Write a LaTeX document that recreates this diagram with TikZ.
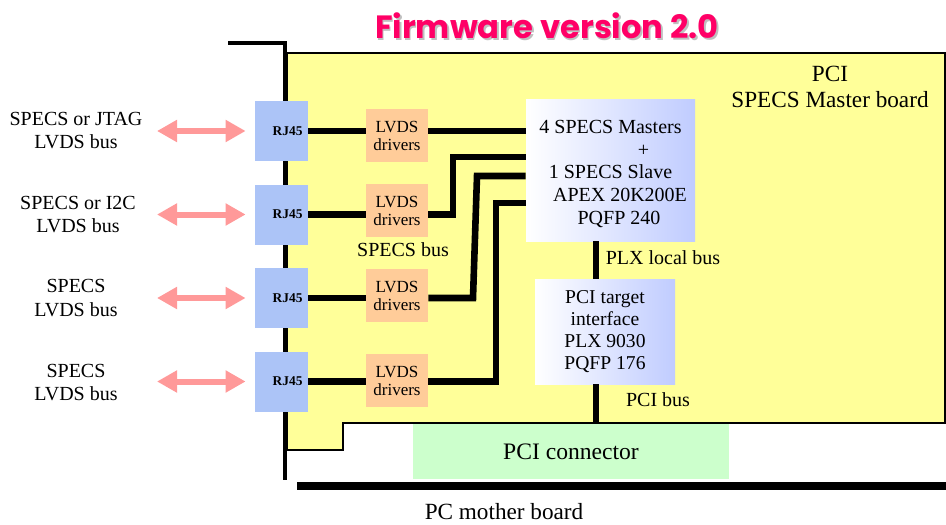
\documentclass[tikz,border=0pt]{standalone}
\usepackage{xcolor}
\usepackage{fontspec}
\setmainfont{Liberation Serif}
\newfontfamily\titlefont{Poppins}
\usetikzlibrary{arrows.meta}

\definecolor{boardyellow}{RGB}{255,255,153}
\definecolor{rjblue}{RGB}{172,196,247}
\definecolor{lvdsorange}{RGB}{255,204,153}
\definecolor{chipblue}{RGB}{192,204,255}
\definecolor{congreen}{RGB}{204,255,204}
\definecolor{arrowpink}{RGB}{255,153,153}
\definecolor{titlepink}{RGB}{255,0,102}

\tikzset{
  rjbox/.style={fill=rjblue, minimum width=26.5pt, minimum height=30pt,
    text width=21pt, inner xsep=2.75pt, align=right,
    font=\bfseries\fontsize{6.7}{8}\selectfont},
  lvdsbox/.style={fill=lvdsorange, minimum width=31pt, minimum height=26.5pt,
    inner sep=0pt, align=center, font=\fontsize{8.5}{9}\selectfont},
  chipbox/.style={left color=white, right color=chipblue, inner sep=0pt, align=center},
  bus/.style={line width=3.3pt},
  duplex/.style={line width=3pt, color=arrowpink,
    {Triangle[width=10.5pt,length=10pt]}-{Triangle[width=10.5pt,length=10pt]}},
}

\begin{document}
\begin{tikzpicture}[x=0.5pt,y=-0.5pt,font=\fontsize{10}{11.6}\selectfont]

\useasboundingbox (0,0) rectangle (946,524);

% title
\node (title) at (547,27) {\titlefont\bfseries\fontsize{16.1}{19}\selectfont
  \makebox[0pt][l]{\hspace{0.8pt}\raisebox{-0.8pt}{\textcolor{black!25}{Firmware version 2.0}}}%
  \textcolor{titlepink}{Firmware version 2.0}};

% board and bracket
\draw[fill=boardyellow, line width=0.8pt] (287,53) -- (945,53) -- (945,423) -- (343,423)
  -- (343,450) -- (287,450) -- cycle;
\draw[line width=2pt] (228,43) -- (285,43) -- (285,480);
\draw[line width=4pt] (297,486) -- (946,486);

\node[align=center, font=\fontsize{11.6}{13}\selectfont] (boardname) at (830,87) {PCI\\SPECS Master board};

% connector
\node[fill=congreen, minimum width=158pt, minimum height=27.5pt, font=\fontsize{11.8}{13}\selectfont]
  (pcicon) at (571,451.5) {PCI connector};
\node[font=\fontsize{11.6}{13}\selectfont] (mother) at (504,512) {PC mother board};

% chips
\node[chipbox, minimum width=84.5pt, minimum height=70.5pt, font=\fontsize{10}{11.3}\selectfont]
  (fpga) at (610.5,170.5) {\rule{0pt}{10pt}4 SPECS Masters\\\hspace{33pt}+\\1 SPECS Slave\\
  \hspace{9.5pt}APEX 20K200E\\\hspace{8.5pt}PQFP 240};
\node[chipbox, minimum width=70pt, minimum height=52.5pt, font=\fontsize{9.8}{10.9}\selectfont]
  (plx) at (605,331.5) {PCI target\\interface\\PLX 9030\\PQFP 176};

% RJ45 sockets
\node[rjbox] (rj1) at (281.5,131) {RJ45};
\node[rjbox] (rj2) at (281.5,214.5) {RJ45};
\node[rjbox] (rj3) at (281.5,298) {RJ45};
\node[rjbox] (rj4) at (281.5,381.5) {RJ45};

% drivers
\node[lvdsbox] (lvds1) at (397,135.5) {LVDS\\drivers};
\node[lvdsbox] (lvds2) at (397,210.5) {LVDS\\drivers};
\node[lvdsbox] (lvds3) at (397,295.5) {LVDS\\drivers};
\node[lvdsbox] (lvds4) at (397,380.5) {LVDS\\drivers};

% wires
\draw[bus] (rj1.east) -- (lvds1.west |- rj1.east);
\draw[bus] (rj2.east) -- (lvds2.west |- rj2.east);
\draw[bus] (rj3.east) -- (lvds3.west |- rj3.east);
\draw[bus] (rj4.east) -- (lvds4.west |- rj4.east);

\coordinate (bend2) at (453,157);
\coordinate (bend3a) at (473,298);
\coordinate (bend3b) at (477,176);
\coordinate (bend4) at (496,203);
\coordinate (busx) at (596,0);

\draw[bus] (lvds1.east |- rj1) -- (fpga.west |- rj1);
\draw[bus] (lvds2.east |- rj2) -| (bend2) -- (bend2 -| fpga.west);
\draw[bus] (lvds3.east |- rj3) -- (bend3a) -- (bend3b) -- (bend3b -| fpga.west);
\draw[bus] (lvds4.east |- rj4) -| (bend4) -- (bend4 -| fpga.west);

\draw[bus] (busx |- fpga.south) -- (busx |- plx.north);
\draw[bus] (busx |- plx.south) -- (busx |- pcicon.north);

\node (specsbus) at (403,250) {SPECS bus};
\node (plxbus) at (663,258) {PLX local bus};
\node (pcibus) at (658,400) {PCI bus};

% outside buses
\node[align=center] (ext1) at (76,130.5) {SPECS or JTAG\\LVDS bus};
\node[align=center] (ext2) at (78,214.5) {SPECS or I2C\\LVDS bus};
\node[align=center] (ext3) at (76,298) {SPECS\\LVDS bus};
\node[align=center] (ext4) at (76,382.5) {SPECS\\LVDS bus};

\coordinate (arrowx) at (157,0);
\draw[duplex, shorten >=4.5pt] (arrowx |- rj1) -- (rj1.west);
\draw[duplex, shorten >=4.5pt] (arrowx |- rj2) -- (rj2.west);
\draw[duplex, shorten >=4.5pt] (arrowx |- rj3) -- (rj3.west);
\draw[duplex, shorten >=4.5pt] (arrowx |- rj4) -- (rj4.west);

\end{tikzpicture}
\end{document}
